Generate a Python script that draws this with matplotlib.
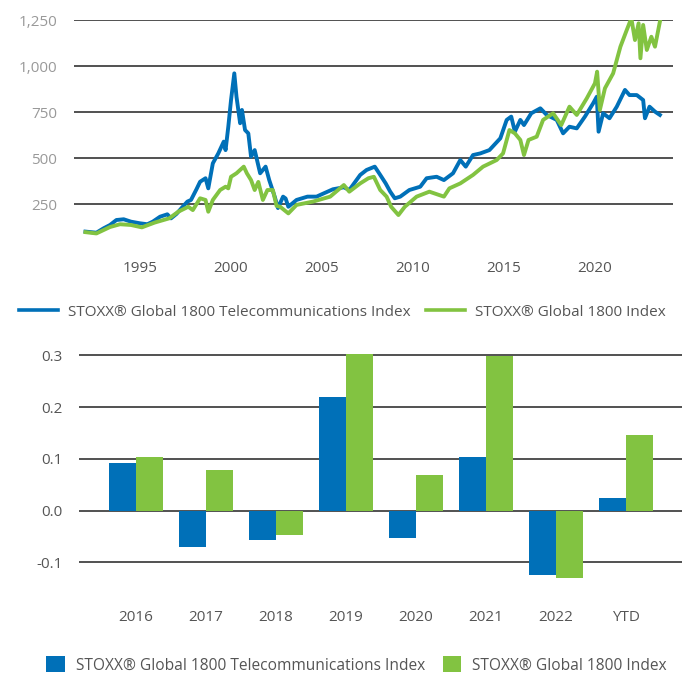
import matplotlib
matplotlib.use("Agg")
import matplotlib.pyplot as plt
from matplotlib.lines import Line2D
from matplotlib.patches import Patch

plt.rcParams['font.family'] = ['Open Sans', 'DejaVu Sans']

# ---------------- data ----------------
tele_years = [1992.0, 1992.6, 1993.0, 1993.35, 1993.7, 1994.1, 1994.5, 1995.0, 1995.4, 1995.7,
              1996.1, 1996.5, 1996.7, 1997.0, 1997.3, 1997.6, 1997.8, 1998.1, 1998.3, 1998.6,
              1998.75, 1999.0, 1999.3, 1999.6, 1999.7, 1999.85, 2000.0, 2000.18, 2000.3, 2000.5,
              2000.6, 2000.77, 2000.95, 2001.1, 2001.3, 2001.6, 2001.9, 2002.1, 2002.4, 2002.58,
              2002.86, 2003.0, 2003.15, 2003.6, 2004.2, 2004.7, 2005.1, 2005.6, 2006.2, 2006.5,
              2007.1, 2007.45, 2007.9, 2008.2, 2008.5, 2008.75, 2009.0, 2009.3, 2009.8, 2010.4,
              2010.75, 2011.3, 2011.7, 2012.2, 2012.6, 2012.9, 2013.3, 2013.7, 2014.2, 2014.8,
              2015.15, 2015.4, 2015.6, 2015.9, 2016.1, 2016.5, 2017.0, 2017.35, 2017.9, 2018.25,
              2018.6, 2019.0, 2019.45, 2019.9, 2020.1, 2020.2, 2020.45, 2020.8, 2021.2, 2021.65,
              2021.9, 2022.3, 2022.65, 2022.75, 2023.0, 2023.3, 2023.57]
tele_values = [100, 94, 118, 136, 163, 167, 154, 145, 140, 154,
               181, 194, 172, 196, 230, 263, 272, 330, 371, 390,
               335, 471, 525, 589, 543, 670, 815, 960, 833, 689,
               761, 652, 634, 507, 543, 417, 453, 380, 290, 228,
               290, 280, 235, 272, 290, 290, 308, 330, 341, 326,
               408, 435, 453, 408, 362, 317, 281, 290, 326, 344,
               390, 398, 380, 417, 489, 453, 516, 525, 543, 607,
               707, 725, 643, 707, 679, 743, 770, 734, 707, 634,
               670, 661, 725, 797, 833, 643, 743, 716, 779, 870,
               842, 842, 815, 716, 779, 752, 734]

glob_years = [1992.0, 1992.6, 1993.35, 1993.9, 1994.5, 1995.1, 1995.8, 1996.6, 1997.1, 1997.65,
              1997.9, 1998.3, 1998.6, 1998.75, 1999.0, 1999.4, 1999.7, 1999.85, 2000.0, 2000.3,
              2000.7, 2000.87, 2001.1, 2001.3, 2001.5, 2001.75, 2002.0, 2002.3, 2002.5, 2002.7,
              2003.15, 2003.6, 2004.5, 2005.45, 2006.2, 2006.5, 2007.1, 2007.55, 2007.85, 2008.2,
              2008.55, 2008.8, 2009.2, 2009.55, 2010.2, 2010.9, 2011.7, 2012.0, 2012.6, 2013.3,
              2013.85, 2014.6, 2014.95, 2015.3, 2015.6, 2015.9, 2016.1, 2016.35, 2016.8, 2017.15,
              2017.7, 2018.15, 2018.6, 2019.0, 2019.55, 2020.0, 2020.12, 2020.27, 2020.55, 2021.0,
              2021.4, 2021.75, 2022.0, 2022.2, 2022.4, 2022.5, 2022.65, 2022.85, 2023.1, 2023.3,
              2023.57]
glob_values = [97, 90, 125, 140, 136, 123, 149, 172, 208, 235,
               217, 281, 272, 208, 272, 326, 344, 335, 398, 417,
               453, 417, 380, 326, 370, 272, 326, 326, 240, 235,
               199, 245, 263, 290, 353, 317, 362, 390, 398, 326,
               290, 235, 190, 235, 290, 317, 290, 335, 362, 408,
               453, 489, 525, 652, 634, 598, 516, 598, 616, 707,
               743, 679, 779, 734, 824, 906, 969, 761, 879, 960,
               1105, 1196, 1259, 1141, 1232, 1042, 1223, 1087, 1159, 1105,
               1241]

bar_categories = ['2016', '2017', '2018', '2019', '2020', '2021', '2022', 'YTD']
tele_returns = [0.092, -0.071, -0.056, 0.219, -0.052, 0.103, -0.125, 0.025]
glob_returns = [0.103, 0.078, -0.047, 0.303, 0.069, 0.299, -0.131, 0.146]

line_ticks = [1995, 2000, 2005, 2010, 2015, 2020]
line_yticks = [250, 500, 750, 1000, 1250]
bar_yticks = [-0.1, 0.0, 0.1, 0.2, 0.3]

name_tele = 'STOXX® Global 1800 Telecommunications Index'
name_glob = 'STOXX® Global 1800 Index'

BLUE = '#0070B8'
GREEN = '#82C341'
GRID = '#222222'
FS = 11

W, H = 682, 676
fig = plt.figure(figsize=(W / 100, H / 100), dpi=100)

# ---------------- top line chart ----------------
ax1 = fig.add_axes([74 / W, 1 - 250 / H, (673 - 74) / W, 230 / H])
ax1.plot(tele_years, tele_values, color=BLUE, lw=2.8, solid_joinstyle='round', zorder=3)
ax1.plot(glob_years, glob_values, color=GREEN, lw=2.8, solid_joinstyle='round', zorder=4)
ax1.set_xlim(1991.37, 2024.29)
ax1.set_ylim(0, 1250)
ax1.set_yticks(line_yticks)
ax1.set_yticklabels([f'{v:,}' for v in line_yticks])
ax1.set_xticks(line_ticks)
ax1.set_xticklabels([str(t) for t in line_ticks])
for s in ax1.spines.values():
    s.set_visible(False)
ax1.grid(axis='y', color=GRID, lw=1.1, zorder=1)
ax1.set_axisbelow(True)
ax1.tick_params(axis='y', length=0, pad=12, labelsize=FS, labelcolor='#999999')
ax1.tick_params(axis='x', length=0, pad=8, labelsize=FS, labelcolor='#555555')

# top legend
h1 = [Line2D([], [], color=BLUE, lw=2.6), Line2D([], [], color=GREEN, lw=2.6)]
fig.legend(h1, [name_tele, name_glob], loc='center', bbox_to_anchor=(0.502, 1 - 312 / H),
           ncol=2, frameon=False, fontsize=FS, labelcolor='#555555',
           handlelength=2.6, handletextpad=0.65, columnspacing=0.95, borderpad=0, borderaxespad=0)

# ---------------- bottom bar chart ----------------
ax2 = fig.add_axes([79 / W, 1 - 593.5 / H, (682 - 79) / W, (593.5 - 344.9) / H])
x = list(range(len(bar_categories)))
bw = 0.385
ax2.bar([i - bw / 2 for i in x], tele_returns, width=bw, color=BLUE, zorder=3)
ax2.bar([i + bw / 2 for i in x], glob_returns, width=bw, color=GREEN, zorder=3)
ax2.set_xlim(-0.814, 7.8)
ax2.set_ylim(-0.16, 0.32)
ax2.set_yticks(bar_yticks)
ax2.set_yticklabels([f'{v:.1f}' for v in bar_yticks])
ax2.set_xticks(x)
ax2.set_xticklabels(bar_categories)
for s in ax2.spines.values():
    s.set_visible(False)
ax2.grid(axis='y', color=GRID, lw=1.1, zorder=1)
ax2.set_axisbelow(True)
ax2.tick_params(axis='y', length=0, pad=12, labelsize=FS, labelcolor='#555555')
ax2.tick_params(axis='x', length=0, pad=12, labelsize=FS, labelcolor='#555555')

h2 = [Patch(facecolor=BLUE, edgecolor='none'), Patch(facecolor=GREEN, edgecolor='none')]
fig.legend(h2, [name_tele, name_glob], loc='center', bbox_to_anchor=(0.523, 1 - 665 / H),
           ncol=2, frameon=False, fontsize=11.2, labelcolor='#555555',
           handlelength=1.16, handleheight=1.16, handletextpad=0.75, columnspacing=1.1,
           borderpad=0, borderaxespad=0)

fig.savefig('out.png', dpi=100, facecolor='white')
